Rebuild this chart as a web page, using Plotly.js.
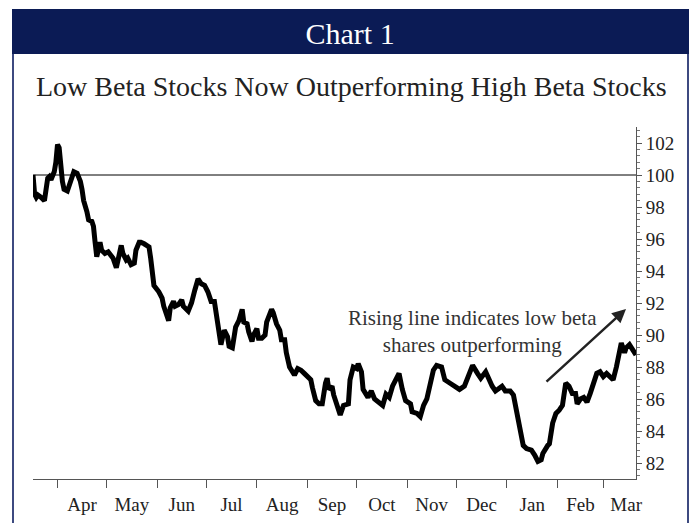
<!DOCTYPE html>
<html>
<head>
<meta charset="utf-8">
<script src="https://cdn.plot.ly/plotly-3.0.1.min.js"></script>
<style>
  html, body { margin: 0; padding: 0; background: #ffffff; }
  #chart { width: 696px; height: 523px; }
</style>
</head>
<body>
<div id="chart"></div>
<script>
// ---- Data ----
const startDate = "2014-03-17";
// day offsets from startDate of each observation
const dayOffsets = [
  0,1,2,3,5,7,9,10,11,13,
  14,15,16,17,18,19,21,22,24,25,
  27,29,30,31,33,34,36,37,38,39,
  40,41,42,44,46,48,49,51,52,54,
  55,57,58,60,62,63,65,66,68,69,
  71,72,73,74,77,79,80,82,83,84,
  86,87,89,91,92,95,97,99,101,103,
  105,107,109,111,113,115,117,119,120,122,
  124,126,128,129,131,132,134,135,137,138,
  140,142,143,146,147,149,151,152,154,155,
  157,158,160,162,164,166,168,170,171,173,
  175,177,179,180,181,183,184,186,188,190,
  193,194,196,198,199,201,202,205,207,209,
  212,214,216,218,220,224,226,228,231,232,
  235,237,239,241,245,247,250,252,255,258,
  261,264,266,269,272,274,277,279,281,283,
  285,287,289,292,294,296,298,300,302,305,
  307,309,311,312,315,316,318,320,322,324,
  326,328,330,332,333,335,337,339,341,343,
  345,347,349,351,353,355,357,359,360,362,
  363,365,366,368,369
];
// relative performance index: low beta vs high beta stocks
const relPerf = [
  100.0,98.8,98.6,98.75,98.6,98.4,99.8,99.9,99.7,100.2,
  100.8,101.9,101.7,100.4,99.6,99.1,99.0,99.3,99.8,100.2,
  100.1,99.6,99.1,98.4,97.7,97.2,97.1,96.8,95.8,94.9,
  95.3,95.8,95.3,95.1,95.2,95.0,94.8,94.2,94.6,95.6,
  95.1,94.7,94.8,94.4,94.5,95.3,95.8,95.8,95.7,95.6,
  95.5,94.8,94.0,93.1,92.7,92.3,91.8,91.3,90.9,91.7,
  92.1,91.8,91.9,92.2,91.8,91.5,92.0,92.8,93.5,93.2,
  93.1,92.7,92.1,92.1,90.5,89.4,90.3,89.9,89.3,89.2,
  90.5,90.9,91.6,90.8,90.7,90.2,89.6,90.0,90.4,89.8,
  89.8,90.0,90.8,91.6,91.4,90.7,90.3,89.7,89.7,88.9,
  88.0,87.8,87.5,87.9,87.8,87.6,87.4,87.2,86.7,85.9,
  85.7,85.7,87.0,87.3,86.6,86.8,86.25,85.7,85.0,85.6,
  85.7,87.2,88.0,87.9,88.2,87.7,86.6,86.1,86.5,86.0,
  85.8,85.6,86.3,86.1,86.8,87.6,86.6,85.9,85.7,85.2,
  85.1,84.9,85.6,86.0,87.8,88.1,88.0,87.2,87.0,86.8,
  86.6,86.8,87.4,88.1,87.6,87.3,87.7,87.2,86.8,86.5,
  86.7,86.8,86.5,86.5,86.25,85.1,84.1,83.1,82.9,82.8,
  82.5,82.1,82.2,82.6,83.1,83.2,84.5,85.1,85.3,85.6,
  87.0,86.8,86.35,86.35,85.7,86.0,86.1,85.8,86.35,86.9,
  87.6,87.7,87.4,87.6,87.4,87.2,88.0,89.1,89.5,88.9,
  89.2,89.4,89.2,88.95,88.75
];
const xRange = ["2014-03-17", "2015-03-21"];
const yTickVals = [82, 84, 86, 88, 90, 92, 94, 96, 98, 100, 102];
const baseline = 100;

const chartTitle = "Chart 1";
const subTitle = "Low Beta Stocks Now Outperforming High Beta Stocks";
const noteText = "Rising line indicates low beta<br>shares outperforming";

// ---- Build dates ----
const t0 = Date.parse(startDate + "T00:00:00Z");
const dates = dayOffsets.map(d => new Date(t0 + d * 86400000).toISOString().slice(0, 10));

const FONT = "'Liberation Serif', 'Times New Roman', serif";
const NAVY = "#0b1b55";

const trace = {
  x: dates,
  y: relPerf,
  type: "scatter",
  mode: "lines",
  line: { color: "#000000", width: 5, shape: "linear" },
  hoverinfo: "skip"
};

const layout = {
  width: 696,
  height: 523,
  margin: { l: 33, r: 60, t: 127, b: 44, pad: 0 },
  paper_bgcolor: "#ffffff",
  plot_bgcolor: "#ffffff",
  showlegend: false,
  font: { family: FONT, color: "#222222" },
  title: {
    text: chartTitle,
    font: { family: FONT, size: 30, color: "#ffffff" },
    xref: "container", yref: "container",
    x: 0.503, y: 1 - 33 / 523,
    xanchor: "center", yanchor: "middle"
  },
  xaxis: {
    type: "date",
    range: xRange,
    tick0: "2014-03-01",
    dtick: "M1",
    tickformat: "%b",
    ticklabelmode: "period",
    ticks: "outside",
    ticklen: 8,
    tickwidth: 1,
    tickcolor: "#555555",
    showline: true,
    linecolor: "#555555",
    linewidth: 1,
    showgrid: false,
    zeroline: false,
    tickfont: { family: FONT, size: 19, color: "#222222" }
  },
  yaxis: {
    range: [81, 103],
    side: "right",
    tickvals: yTickVals,
    ticktext: yTickVals.map(String),
    ticks: "outside",
    ticklen: 5,
    tickwidth: 1,
    tickcolor: "#555555",
    minor: { dtick: 0.4, tick0: 82, ticks: "outside", ticklen: 3, tickcolor: "#777777", showgrid: false },
    showline: true,
    linecolor: "#555555",
    linewidth: 1,
    showgrid: false,
    zeroline: false,
    tickfont: { family: FONT, size: 19, color: "#222222" }
  },
  shapes: [
    // navy title band
    { type: "rect", xref: "paper", yref: "paper",
      x0: (12 - 33) / 603, x1: (689 - 33) / 603,
      y0: (479 - 54) / 352, y1: (479 - 9) / 352,
      fillcolor: NAVY, line: { width: 0 }, layer: "below" },
    // left & right frame lines
    { type: "line", xref: "paper", yref: "paper",
      x0: (13 - 33) / 603, x1: (13 - 33) / 603,
      y0: (479 - 54) / 352, y1: (479 - 530) / 352,
      line: { color: "#3d4a80", width: 2 } },
    { type: "line", xref: "paper", yref: "paper",
      x0: (688 - 33) / 603, x1: (688 - 33) / 603,
      y0: (479 - 54) / 352, y1: (479 - 530) / 352,
      line: { color: "#3d4a80", width: 2 } },
    // reference line at 100
    { type: "line", xref: "paper", yref: "y",
      x0: 0, x1: 1, y0: baseline, y1: baseline,
      line: { color: "#000000", width: 1 }, layer: "below" }
  ],
  annotations: [
    { text: subTitle, xref: "paper", yref: "paper",
      x: (351 - 33) / 603, y: (479 - 86) / 352,
      xanchor: "center", yanchor: "middle", showarrow: false,
      font: { family: FONT, size: 28, color: "#222222" } },
    { text: noteText, xref: "paper", yref: "paper",
      x: (472 - 33) / 603, y: (479 - 331) / 352,
      xanchor: "center", yanchor: "middle", align: "center", showarrow: false,
      font: { family: FONT, size: 21, color: "#333333" } },
    { text: "", xref: "paper", yref: "paper",
      x: (626 - 33) / 603, y: (479 - 309) / 352,
      showarrow: true, ax: -81, ay: 74,
      arrowhead: 2, arrowsize: 1.1, arrowwidth: 2.5, arrowcolor: "#222222" }
  ]
};

Plotly.newPlot("chart", [trace], layout, { staticPlot: true, displayModeBar: false });
</script>
</body>
</html>
